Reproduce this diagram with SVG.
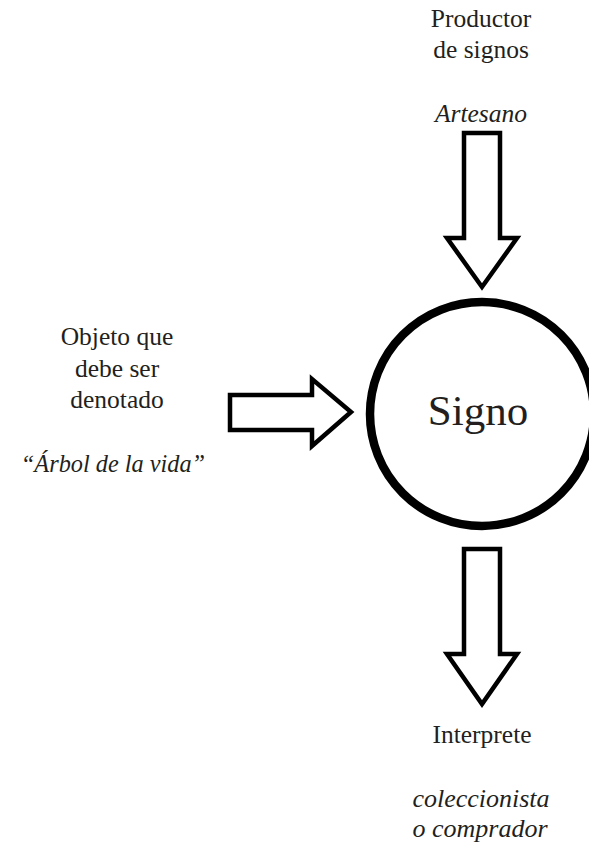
<svg xmlns="http://www.w3.org/2000/svg" width="589" height="846" viewBox="0 0 589 846">
<style>
text{font-family:'Liberation Serif',serif;fill:#231f20;text-anchor:middle}
.lbl{font-size:25.5px}
.it{font-style:italic}
.arr{fill:#fff;stroke:#000;stroke-width:4.5;stroke-linejoin:miter;stroke-miterlimit:10}
</style>
<rect width="589" height="846" fill="#fff"/>
<g id="signo">
<circle cx="482" cy="414" r="112" fill="#fff" stroke="#000" stroke-width="8.5"/>
<text x="478" y="425" font-size="43">Signo</text>
</g>
<g id="productor">
<text class="lbl" x="481" y="27">Productor</text>
<text class="lbl" x="481" y="58">de signos</text>
<text class="lbl it" x="481" y="122">Artesano</text>
</g>
<g id="objeto">
<text class="lbl" x="117" y="345">Objeto que</text>
<text class="lbl" x="117" y="377">debe ser</text>
<text class="lbl" x="117" y="408">denotado</text>
<text class="lbl it" x="113" y="472" style="font-size:24.3px">“Árbol de la vida”</text>
</g>
<g id="interprete">
<text class="lbl" x="482" y="743">Interprete</text>
<text class="lbl it" x="481" y="807" style="font-size:26px">coleccionista</text>
<text class="lbl it" x="480" y="837" style="font-size:26px">o comprador</text>
</g>
<g id="connectors">
<path class="arr" d="M464 133 H500 V238 H517 L482 287 L447 238 H464 Z"/>
<path class="arr" d="M230 395 H312 V379 L351 412 L312 446 V430 H230 Z"/>
<path class="arr" d="M464 549 H500 V654 H517 L482 704 L447 654 H464 Z"/>
</g>
</svg>
